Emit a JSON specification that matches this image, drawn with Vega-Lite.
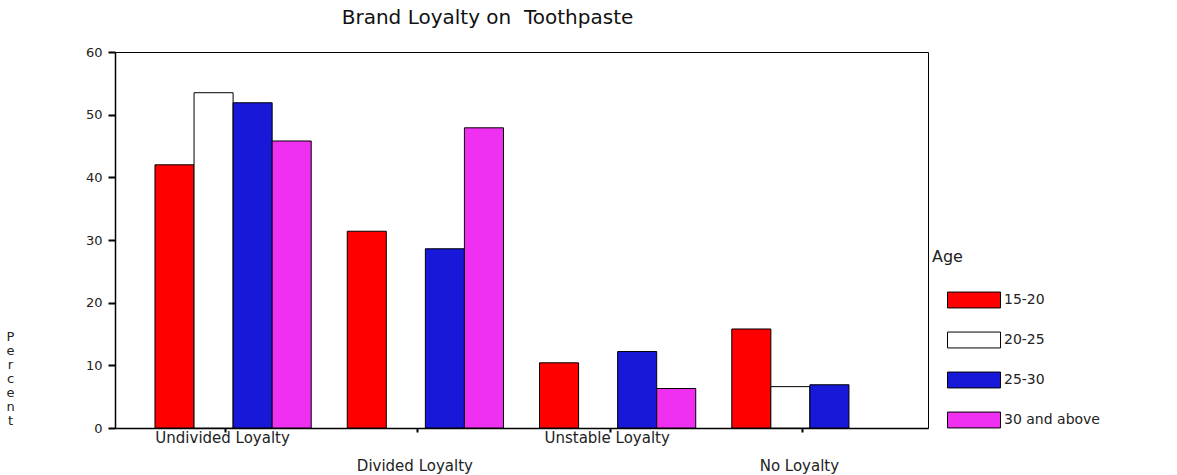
{
  "$schema": "https://vega.github.io/schema/vega-lite/v6.json",
  "autosize": "none",
  "padding": {"left": 115, "top": 52, "right": 249, "bottom": 47},
  "width": 813,
  "height": 376,
  "background": "white",
  "title": {
    "text": "Brand Loyalty on \u00a0Toothpaste",
    "anchor": "middle",
    "dx": -34,
    "offset": 18,
    "font": "DejaVu Sans",
    "fontSize": 20,
    "fontWeight": "normal",
    "color": "#111111"
  },
  "data": {
    "values": [
      {"loyalty": "Undivided Loyalty", "age": "15-20", "percent": 42.0},
      {"loyalty": "Undivided Loyalty", "age": "20-25", "percent": 53.5},
      {"loyalty": "Undivided Loyalty", "age": "25-30", "percent": 51.9},
      {"loyalty": "Undivided Loyalty", "age": "30 and above", "percent": 45.8},
      {"loyalty": "Divided Loyalty", "age": "15-20", "percent": 31.4},
      {"loyalty": "Divided Loyalty", "age": "25-30", "percent": 28.6},
      {"loyalty": "Divided Loyalty", "age": "30 and above", "percent": 47.9},
      {"loyalty": "Unstable Loyalty", "age": "15-20", "percent": 10.4},
      {"loyalty": "Unstable Loyalty", "age": "25-30", "percent": 12.2},
      {"loyalty": "Unstable Loyalty", "age": "30 and above", "percent": 6.3},
      {"loyalty": "No Loyalty", "age": "15-20", "percent": 15.8},
      {"loyalty": "No Loyalty", "age": "20-25", "percent": 6.6},
      {"loyalty": "No Loyalty", "age": "25-30", "percent": 6.9}
    ]
  },
  "mark": {"type": "bar", "stroke": "#000000", "strokeWidth": 1},
  "encoding": {
    "x": {
      "field": "loyalty",
      "type": "nominal",
      "sort": ["Undivided Loyalty", "Divided Loyalty", "Unstable Loyalty", "No Loyalty"],
      "scale": {"paddingInner": 0.1875, "paddingOuter": 0.208},
      "axis": {
        "title": null,
        "labelAngle": 0,
        "labelFont": "DejaVu Sans",
        "labelFontSize": 15,
        "labelColor": "#222222",
        "labelBaseline": "top",
        "labelPadding": -2,
        "labelLineHeight": 28,
        "labelOffset": -3,
        "tickOffset": -8,
        "labelExpr": "(datum.value == 'Divided Loyalty' || datum.value == 'No Loyalty') ? ['', datum.value] : datum.value",
        "tickSize": 4,
        "tickWidth": 2,
        "tickColor": "#000000",
        "domainColor": "#000000",
        "domainWidth": 1.5,
        "grid": false
      }
    },
    "xOffset": {
      "field": "age",
      "type": "nominal",
      "scale": {"domain": ["15-20", "20-25", "25-30", "30 and above"], "paddingInner": 0, "paddingOuter": 0}
    },
    "y": {
      "field": "percent",
      "type": "quantitative",
      "scale": {"domain": [0, 60], "nice": false},
      "axis": {
        "title": ["P", "e", "r", "c", "e", "n", "t"],
        "titleAngle": 0,
        "titleX": -105,
        "titleY": 278,
        "titleAlign": "center",
        "titleBaseline": "top",
        "titleFont": "DejaVu Sans",
        "titleFontSize": 13,
        "titleFontWeight": "normal",
        "titleLineHeight": 14,
        "titleColor": "#222222",
        "values": [0, 10, 20, 30, 40, 50, 60],
        "labelFont": "DejaVu Sans",
        "labelFontSize": 13,
        "labelColor": "#222222",
        "labelPadding": 6,
        "tickSize": 7,
        "tickWidth": 2,
        "tickColor": "#000000",
        "domainColor": "#000000",
        "domainWidth": 1.5,
        "grid": false
      }
    },
    "color": {
      "field": "age",
      "type": "nominal",
      "scale": {
        "domain": ["15-20", "20-25", "25-30", "30 and above"],
        "range": ["#FF0000", "#FFFFFF", "#1818D8", "#F030F0"]
      },
      "legend": {
        "title": "Age",
        "orient": "none",
        "legendX": 817,
        "legendY": 197,
        "titleFont": "DejaVu Sans",
        "titleFontSize": 16,
        "titleFontWeight": "normal",
        "titleColor": "#222222",
        "titlePadding": 8,
        "symbolType": "M-1,-0.3H1V0.3H-1Z",
        "symbolSize": 2809,
        "symbolStrokeColor": "#000000",
        "symbolStrokeWidth": 1,
        "symbolOffset": 15,
        "labelFont": "DejaVu Sans",
        "labelFontSize": 14,
        "labelColor": "#222222",
        "labelOffset": 3,
        "rowPadding": 3
      }
    }
  },
  "config": {
    "view": {"stroke": "#000000", "strokeWidth": 1}
  }
}
